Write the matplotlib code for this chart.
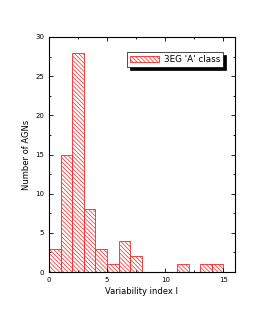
import matplotlib
matplotlib.use("Agg")
import matplotlib.pyplot as plt
from matplotlib.ticker import MultipleLocator

bin_edges = [0, 1, 2, 3, 4, 5, 6, 7, 8, 9, 10, 11, 12, 13, 14, 15]
counts = [3, 15, 28, 8, 3, 1, 4, 2, 0, 0, 0, 1, 0, 1, 1]
series_label = "3EG 'A' class"

plt.rcParams['hatch.linewidth'] = 0.5
plt.rcParams['hatch.color'] = '#ff3030'
plt.rcParams['font.family'] = ['DejaVu Sans']

fig = plt.figure(figsize=(2.73, 3.27), dpi=100)
ax = fig.add_axes([0.179, 0.168, 0.682, 0.719])

lefts = bin_edges[:-1]
widths = [bin_edges[i + 1] - bin_edges[i] for i in range(len(counts))]
ax.bar(lefts, counts, width=widths, align='edge', facecolor='white',
       edgecolor='#ff2020', hatch='\\' * 8, linewidth=0.6, label=series_label)

ax.set_xlim(0, 16)
ax.set_ylim(0, 30)
ax.xaxis.set_major_locator(MultipleLocator(5))
ax.xaxis.set_minor_locator(MultipleLocator(2.5))
ax.yaxis.set_major_locator(MultipleLocator(5))
ax.yaxis.set_minor_locator(MultipleLocator(2.5))
ax.tick_params(which='both', direction='in', top=True, right=True, labelsize=5, width=0.6)
ax.tick_params(which='major', length=3)
ax.tick_params(which='minor', length=1.5)
for s in ax.spines.values():
    s.set_linewidth(0.8)

ax.set_xlabel('Variability index I', fontsize=6, labelpad=3)
ax.set_ylabel('Number of AGNs', fontsize=6, labelpad=3)

leg = ax.legend(loc='upper right', bbox_to_anchor=(0.935, 0.936), fontsize=6.3,
                frameon=True, fancybox=False, shadow={'color': 'black', 'alpha': 1},
                handlelength=3.3, handleheight=0.8, borderpad=0.35,
                handletextpad=0.5, borderaxespad=0)
leg.get_frame().set_edgecolor('black')
leg.get_frame().set_linewidth(0.5)

# widen the frame to the right, as in the reference
fig.canvas.draw()
frame = leg.get_frame()
frame.set_width(frame.get_width() + 10)
frame.set_x(frame.get_x() - 10)
leg.set_bbox_to_anchor((0.935 + 10 / fig.dpi / 2.73 / 0.682 * 0, 0.936), transform=ax.transAxes)

fig.savefig('out.png', dpi=100)
